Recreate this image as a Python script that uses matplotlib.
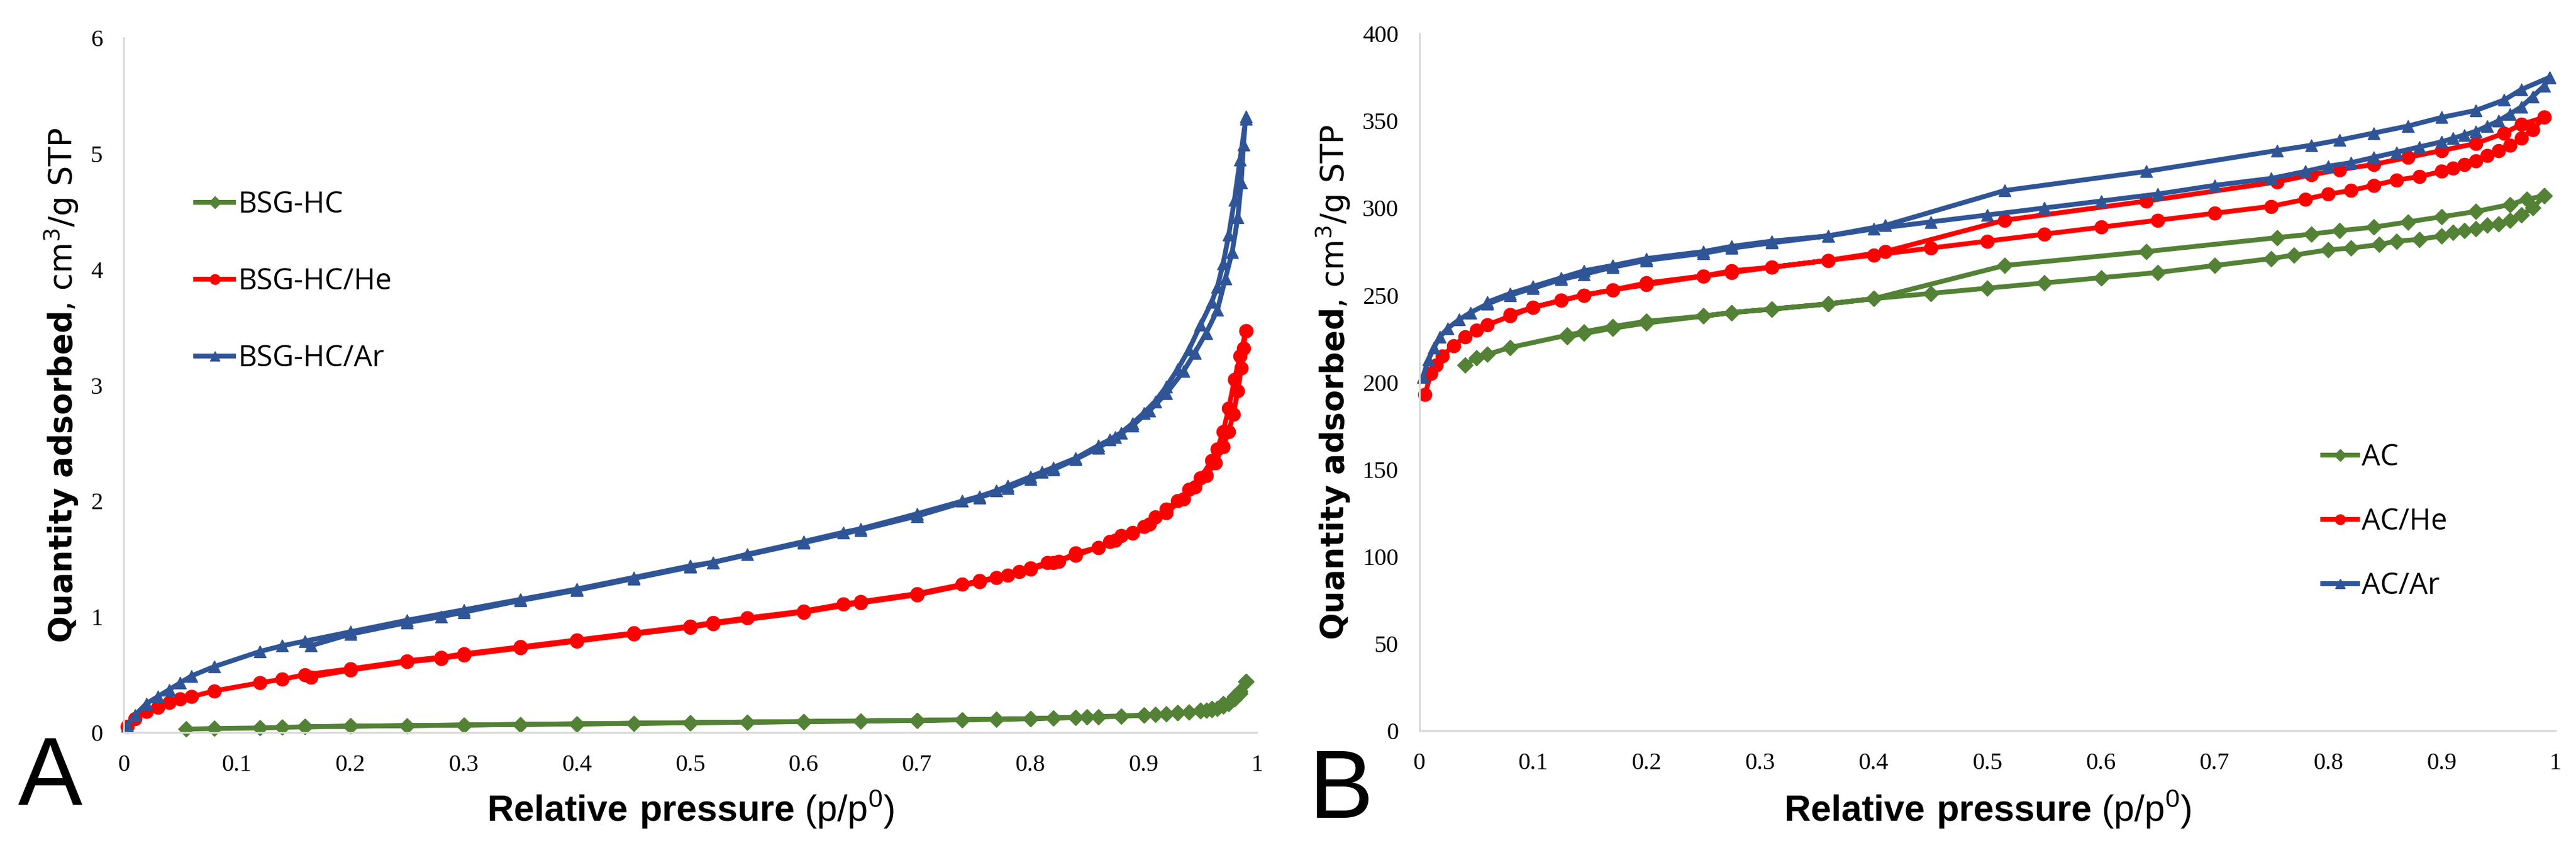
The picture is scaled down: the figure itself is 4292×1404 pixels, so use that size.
import numpy as np
import matplotlib
matplotlib.use("Agg")
import matplotlib.pyplot as plt

# ---- panel A: BSG-HC samples (adsorption branch, then desorption branch)
bsg_x_ads = [0.055, 0.08, 0.12, 0.14, 0.16, 0.2, 0.25, 0.3, 0.35, 0.4, 0.45, 0.5, 0.55, 0.6,
             0.65, 0.7, 0.74, 0.77, 0.8, 0.82, 0.84, 0.86, 0.88, 0.9, 0.91, 0.92, 0.93, 0.94,
             0.95, 0.955, 0.96, 0.965, 0.97, 0.975, 0.98, 0.985, 0.99]
bsg_y_ads = [0.03, 0.035, 0.04, 0.045, 0.05, 0.055, 0.06, 0.065, 0.07, 0.075, 0.08, 0.085, 0.09,
             0.095, 0.1, 0.105, 0.11, 0.115, 0.12, 0.125, 0.13, 0.135, 0.14, 0.15, 0.155, 0.16,
             0.17, 0.175, 0.185, 0.19, 0.2, 0.21, 0.23, 0.25, 0.29, 0.34, 0.44]
bsg_x_des = [0.99, 0.985, 0.98, 0.97, 0.96, 0.95, 0.93, 0.9, 0.85, 0.8, 0.7, 0.6, 0.5, 0.4, 0.3, 0.2, 0.16]
bsg_y_des = [0.44, 0.36, 0.31, 0.25, 0.21, 0.19, 0.17, 0.15, 0.135, 0.12, 0.105, 0.095, 0.085,
             0.075, 0.065, 0.055, 0.05]

bsg_he_x_ads = [0.003, 0.01, 0.02, 0.03, 0.04, 0.05, 0.06, 0.08, 0.12, 0.14, 0.16, 0.2, 0.25, 0.28,
                0.3, 0.35, 0.4, 0.45, 0.5, 0.52, 0.55, 0.6, 0.635, 0.65, 0.7, 0.74, 0.755, 0.77,
                0.79, 0.8, 0.815, 0.825, 0.84, 0.86, 0.87, 0.88, 0.89, 0.9, 0.91, 0.92, 0.93,
                0.94, 0.95, 0.96, 0.965, 0.97, 0.975, 0.98, 0.985, 0.99]
bsg_he_y_ads = [0.05, 0.12, 0.18, 0.22, 0.26, 0.29, 0.31, 0.36, 0.43, 0.46, 0.5, 0.55, 0.62, 0.65,
                0.68, 0.74, 0.8, 0.86, 0.92, 0.95, 0.99, 1.05, 1.11, 1.13, 1.2, 1.28, 1.31, 1.34,
                1.39, 1.42, 1.47, 1.48, 1.55, 1.6, 1.65, 1.7, 1.73, 1.78, 1.86, 1.93, 2.0, 2.1,
                2.2, 2.35, 2.45, 2.6, 2.8, 3.05, 3.25, 3.47]
bsg_he_x_des = [0.99, 0.988, 0.986, 0.983, 0.979, 0.975, 0.97, 0.963, 0.955, 0.945, 0.935, 0.92,
                0.905, 0.89, 0.875, 0.86, 0.84, 0.82, 0.8, 0.78, 0.755, 0.7, 0.65, 0.6, 0.52,
                0.5, 0.45, 0.4, 0.35, 0.3, 0.28, 0.25, 0.2, 0.165]
bsg_he_y_des = [3.47, 3.32, 3.15, 2.95, 2.75, 2.6, 2.47, 2.33, 2.22, 2.12, 2.02, 1.9, 1.8, 1.72,
                1.66, 1.6, 1.53, 1.47, 1.41, 1.36, 1.3, 1.19, 1.12, 1.04, 0.94, 0.91, 0.85, 0.79,
                0.73, 0.67, 0.64, 0.61, 0.54, 0.48]

bsg_ar_x_ads = [0.003, 0.01, 0.02, 0.03, 0.04, 0.05, 0.06, 0.08, 0.12, 0.14, 0.16, 0.2, 0.25, 0.3,
                0.35, 0.4, 0.45, 0.5, 0.52, 0.55, 0.6, 0.635, 0.65, 0.7, 0.74, 0.755, 0.77, 0.78,
                0.8, 0.81, 0.82, 0.84, 0.86, 0.87, 0.88, 0.89, 0.9, 0.91, 0.92, 0.93, 0.94, 0.95,
                0.96, 0.965, 0.97, 0.975, 0.98, 0.985, 0.99]
bsg_ar_y_ads = [0.06, 0.15, 0.25, 0.31, 0.37, 0.43, 0.49, 0.57, 0.7, 0.75, 0.79, 0.87, 0.97, 1.06,
                1.15, 1.24, 1.34, 1.44, 1.47, 1.54, 1.65, 1.73, 1.76, 1.89, 2.0, 2.04, 2.09, 2.13,
                2.21, 2.25, 2.29, 2.37, 2.48, 2.53, 2.59, 2.67, 2.76, 2.86, 2.99, 3.14, 3.31, 3.52,
                3.72, 3.85, 4.05, 4.3, 4.6, 4.95, 5.3]
bsg_ar_x_des = [0.99, 0.988, 0.986, 0.983, 0.978, 0.972, 0.965, 0.955, 0.945, 0.935, 0.92, 0.905,
                0.89, 0.875, 0.86, 0.84, 0.82, 0.8, 0.78, 0.755, 0.7, 0.65, 0.6, 0.52, 0.5, 0.45,
                0.4, 0.35, 0.3, 0.28, 0.25, 0.2, 0.165]
bsg_ar_y_des = [5.32, 5.08, 4.75, 4.45, 4.15, 3.92, 3.65, 3.45, 3.28, 3.12, 2.93, 2.78, 2.65, 2.55,
                2.46, 2.36, 2.27, 2.19, 2.11, 2.03, 1.87, 1.75, 1.64, 1.47, 1.43, 1.33, 1.23, 1.14,
                1.04, 1.0, 0.95, 0.85, 0.75]

# ---- panel B: AC samples
ac_x_ads = [0.04, 0.05, 0.06, 0.08, 0.13, 0.145, 0.17, 0.2, 0.25, 0.275, 0.31, 0.36, 0.4, 0.45,
            0.5, 0.55, 0.6, 0.65, 0.7, 0.75, 0.77, 0.8, 0.82, 0.845, 0.86, 0.88, 0.9, 0.91, 0.92,
            0.93, 0.94, 0.95, 0.96, 0.97, 0.98, 0.99]
ac_y_ads = [210, 214, 216, 220, 227, 229, 232, 235, 238, 240, 242, 245, 248, 251, 254, 257, 260,
            263, 267, 271, 273, 276, 277, 279, 281, 282, 284, 286, 287, 288, 290, 291, 293, 296,
            300, 307]
ac_x_des = [0.99, 0.975, 0.96, 0.93, 0.9, 0.87, 0.84, 0.81, 0.785, 0.755, 0.64, 0.515, 0.4, 0.36,
            0.31, 0.275, 0.25, 0.2, 0.17, 0.145, 0.13]
ac_y_des = [307, 305, 302, 298, 295, 292, 289, 287, 285, 283, 275, 267, 248, 245, 242, 240, 238,
            234, 231, 228, 226]

ac_he_x_ads = [0.005, 0.01, 0.015, 0.02, 0.03, 0.04, 0.05, 0.06, 0.08, 0.1, 0.125, 0.145, 0.17,
               0.2, 0.25, 0.275, 0.31, 0.36, 0.4, 0.45, 0.5, 0.55, 0.6, 0.65, 0.7, 0.75, 0.78, 0.8,
               0.82, 0.84, 0.86, 0.88, 0.9, 0.91, 0.92, 0.93, 0.94, 0.95, 0.96, 0.97, 0.98, 0.99]
ac_he_y_ads = [193, 205, 210, 215, 221, 226, 230, 233, 238, 243, 247, 250, 253, 256, 261, 263,
               266, 270, 273, 277, 281, 285, 289, 293, 297, 301, 305, 308, 310, 313, 316, 318,
               321, 323, 325, 327, 330, 333, 336, 340, 345, 352]
ac_he_x_des = [0.99, 0.97, 0.955, 0.93, 0.9, 0.87, 0.84, 0.81, 0.785, 0.755, 0.64, 0.515, 0.41,
               0.36, 0.31, 0.275, 0.25, 0.2, 0.17, 0.145, 0.125, 0.1, 0.08]
ac_he_y_des = [352, 348, 343, 337, 333, 329, 325, 322, 319, 315, 304, 293, 275, 270, 266, 264,
               261, 257, 253, 250, 247, 243, 239]

ac_ar_x_ads = [0.003, 0.008, 0.013, 0.018, 0.025, 0.035, 0.045, 0.06, 0.08, 0.1, 0.125, 0.145,
               0.17, 0.2, 0.25, 0.275, 0.31, 0.36, 0.4, 0.45, 0.5, 0.55, 0.6, 0.65, 0.7, 0.75,
               0.78, 0.8, 0.82, 0.84, 0.86, 0.88, 0.9, 0.91, 0.92, 0.93, 0.94, 0.95, 0.96, 0.97,
               0.98, 0.99, 0.995]
ac_ar_y_ads = [203, 213, 220, 226, 231, 236, 240, 245, 250, 254, 259, 262, 266, 270, 274, 277,
               280, 284, 288, 292, 296, 300, 304, 308, 313, 317, 321, 324, 326, 329, 332, 335,
               338, 340, 342, 344, 347, 350, 354, 358, 364, 370, 375]
ac_ar_x_des = [0.995, 0.97, 0.955, 0.93, 0.9, 0.87, 0.84, 0.81, 0.785, 0.755, 0.64, 0.515, 0.41,
               0.36, 0.31, 0.275, 0.25, 0.2, 0.17, 0.145, 0.125, 0.1, 0.08, 0.06]
ac_ar_y_des = [375, 368, 362, 356, 352, 347, 343, 339, 336, 333, 321, 310, 290, 284, 281, 278,
               275, 271, 267, 264, 260, 255, 251, 246]

x_ticks = [0, 0.1, 0.2, 0.3, 0.4, 0.5, 0.6, 0.7, 0.8, 0.9, 1]
x_tick_labels = ["0", "0.1", "0.2", "0.3", "0.4", "0.5", "0.6", "0.7", "0.8", "0.9", "1"]
a_y_ticks = [0, 1, 2, 3, 4, 5, 6]
b_y_ticks = [0, 50, 100, 150, 200, 250, 300, 350, 400]

GREEN = "#538135"
RED = "#ff0000"
BLUE = "#2f5597"

plt.rcParams["mathtext.fontset"] = "custom"
plt.rcParams["mathtext.rm"] = "Liberation Sans"
plt.rcParams["mathtext.bf"] = "Liberation Sans:bold"


def style_axes(ax, yticks, xlabel_y):
    for side in ("top", "right"):
        ax.spines[side].set_visible(False)
    for side in ("left", "bottom"):
        ax.spines[side].set_color("#d9d9d9")
        ax.spines[side].set_linewidth(2.2)
    ax.set_xlim(0, 1)
    ax.set_ylim(yticks[0], yticks[-1])
    ax.set_xticks(x_ticks)
    ax.set_xticklabels(x_tick_labels)
    ax.set_yticks(yticks)
    ax.set_yticklabels([str(v) for v in yticks])
    ax.tick_params(axis="x", length=0, labelsize=29, pad=26)
    ax.tick_params(axis="y", length=0, labelsize=29, pad=25)
    for lab in ax.get_xticklabels() + ax.get_yticklabels():
        lab.set_fontfamily("Liberation Serif")
    ax.set_ylabel(r"$\mathbf{Quantity\ adsorbed}$, cm$^3$/g STP", fontsize=38,
                  fontfamily="DejaVu Sans", math_fontfamily="dejavusans", labelpad=12)
    ax.set_xlabel(r"$\mathbf{Relative\ pressure}$ (p/p$^0$)", fontsize=44,
                  fontfamily="Liberation Sans", va="baseline")
    ax.xaxis.set_label_coords(0.5, xlabel_y)


def draw(ax, xa, ya, xd, yd, color, marker, ms, label):
    line, = ax.plot(np.concatenate([xa, xd]), np.concatenate([ya, yd]), color=color,
                    marker=marker, markersize=ms, linewidth=5.8, label=label,
                    solid_joinstyle="round", clip_on=False)
    return line


fig = plt.figure(figsize=(42.92, 14.04), dpi=100)
ax_a = fig.add_axes([0.048, 0.131, 0.440, 0.824])
ax_b = fig.add_axes([0.551, 0.133, 0.441, 0.827])

h1 = draw(ax_a, bsg_x_ads, bsg_y_ads, bsg_x_des, bsg_y_des, GREEN, "D", 13, "BSG-HC")
h2 = draw(ax_a, bsg_he_x_ads, bsg_he_y_ads, bsg_he_x_des, bsg_he_y_des, RED, "o", 16, "BSG-HC/He")
h3 = draw(ax_a, bsg_ar_x_ads, bsg_ar_y_ads, bsg_ar_x_des, bsg_ar_y_des, BLUE, "^", 15, "BSG-HC/Ar")
style_axes(ax_a, a_y_ticks, -0.128)
ax_a.legend(handles=[h1, h2, h3], loc="center left", bbox_to_anchor=(0.0635, 0.649),
            frameon=False, borderpad=0, borderaxespad=0, handlelength=1.3, handletextpad=0.15,
            labelspacing=1.62, markerscale=0.75, prop={"family": "Open Sans", "size": 35})

g1 = draw(ax_b, ac_x_ads, ac_y_ads, ac_x_des, ac_y_des, GREEN, "D", 13, "AC")
g2 = draw(ax_b, ac_he_x_ads, ac_he_y_ads, ac_he_x_des, ac_he_y_des, RED, "o", 16, "AC/He")
g3 = draw(ax_b, ac_ar_x_ads, ac_ar_y_ads, ac_ar_x_des, ac_ar_y_des, BLUE, "^", 15, "AC/Ar")
style_axes(ax_b, b_y_ticks, -0.130)
ax_b.legend(handles=[g1, g2, g3], loc="center left", bbox_to_anchor=(0.795, 0.300),
            frameon=False, borderpad=0, borderaxespad=0, handlelength=1.2, handletextpad=0.15,
            labelspacing=1.18, markerscale=0.75, prop={"family": "Open Sans", "size": 35})

fig.text(83 / 4292, 1 - 1300 / 1404, "A", fontsize=116, fontfamily="Liberation Sans",
         ha="center", va="center")
fig.text(2235 / 4292, 1 - 1320 / 1404, "B", fontsize=116, fontfamily="Liberation Sans",
         ha="center", va="center")

fig.savefig("out.png", dpi=100, facecolor="white")
